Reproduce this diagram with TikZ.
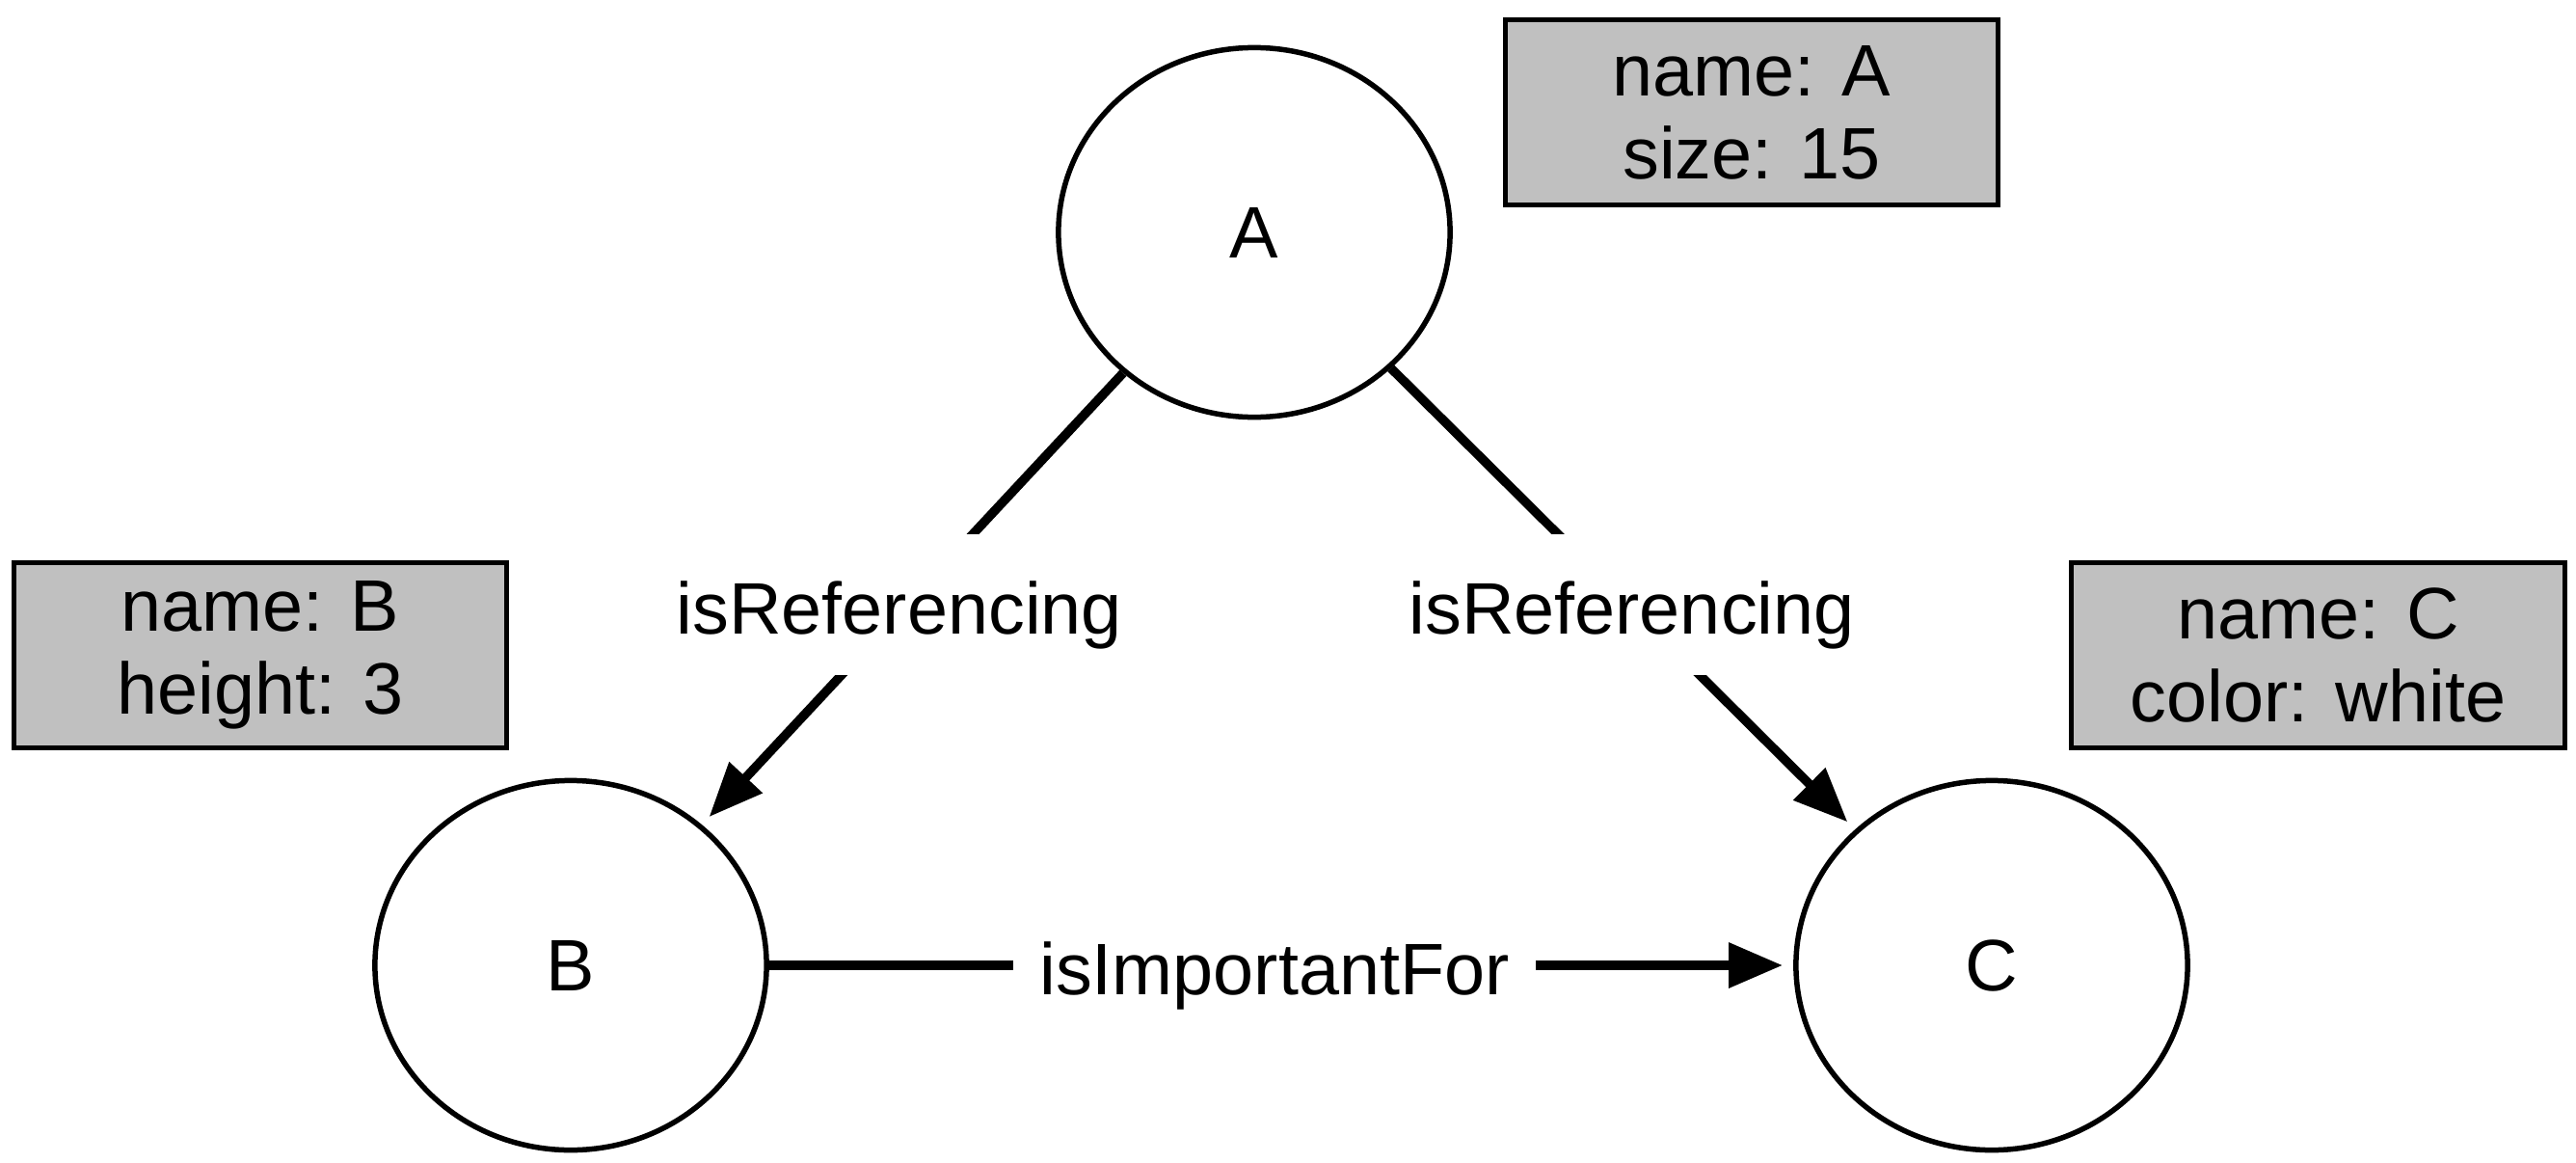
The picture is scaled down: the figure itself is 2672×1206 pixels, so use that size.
\documentclass[tikz,border=0pt]{standalone}
\usepackage{fontspec}
\setmainfont{Liberation Sans}
\usetikzlibrary{shapes.geometric,arrows.meta,calc}
\definecolor{propgray}{RGB}{192,192,192}
\begin{document}
\begin{tikzpicture}[x=0.01cm,y=-0.01cm,
  every node/.style={font=\fontsize{21.5}{24.45}\selectfont},
  ent/.style={draw, ellipse, line width=0.055cm, minimum width=4.06cm, minimum height=3.83cm, inner sep=0pt},
  prop/.style={draw, line width=0.05cm, fill=propgray, minimum width=5.11cm, minimum height=1.92cm, inner sep=0pt, align=center},
  lbl/.style={fill=white, inner xsep=0.27cm, inner ysep=0pt, text height=1.03cm, text depth=0.43cm},
  rel/.style={line width=0.095cm},
  arr/.style={rel, -{Triangle[length=0.56cm,width=0.45cm]}, shorten >=0.11cm}]
\fill[white] (0,0) rectangle (2672,1206);
\useasboundingbox (0,0) rectangle (2672,1206);
\node[ent] (A) at (1301,241) {A};
\node[ent] (B) at (592,1001) {B};
\node[ent] (C) at (2066,1001) {C};
\node[prop] (pA) at (1817,116.5) {name: A\\size: 15};
\node[prop] (pB) at (270,679.5) {name: B\\height: 3};
\node[prop] (pC) at (2404.5,679.5) {name: C\\color: white};
\draw[arr] (A) -- (B);
\draw[arr] (A) -- (C);
\draw[arr] (B) -- (C);
\node[lbl] (l1) at ($(A)!0.508!(B)+(-8,0)$) {isReferencing};
\node[lbl] (l2) at ($(A)!0.508!(C)+(3,0)$) {isReferencing};
\node[lbl] (l3) at (1322,1001) {isImportantFor};
\end{tikzpicture}
\end{document}
